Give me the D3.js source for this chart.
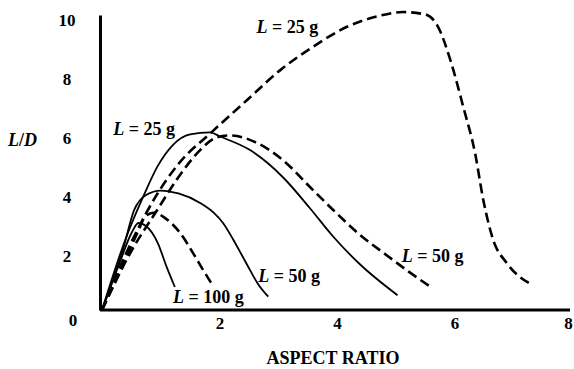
<!DOCTYPE html>
<html>
<head>
<meta charset="utf-8">
<script src="https://cdn.jsdelivr.net/npm/d3@7"></script>
<style>
  body { margin: 0; background: #fff; }
  svg { display: block; font-family: "Liberation Serif", "Times New Roman", serif; font-weight: bold; }
</style>
</head>
<body>
<div id="chart"></div>
<script>
// x = aspect ratio, y = L/D
const solid25 = [[0,0],[0.4,2.4],[0.73,3.97],[0.94,4.85],[1.21,5.6],[1.5,5.95],[1.84,6.02],[2.01,5.88],[2.52,5.42],[3.08,4.5],[3.54,3.45],[3.93,2.5],[4.39,1.55],[5.03,0.5]];
const solid50 = [[0,0],[0.35,2.0],[0.55,3.4],[0.75,3.9],[1.0,4.05],[1.3,3.95],[1.67,3.63],[1.9,3.3],[2.06,2.95],[2.23,2.4],[2.37,1.9],[2.52,1.35],[2.65,0.9],[2.83,0.45]];
const solid100 = [[0,0],[0.3,1.6],[0.5,2.6],[0.62,2.95],[0.75,2.85],[0.95,2.27],[1.1,1.46],[1.24,0.78]];
const dashed25 = [[0,0],[0.5,2.3],[0.9,3.8],[1.33,5.02],[1.84,5.98],[2.47,7.12],[3.04,8.14],[3.59,8.92],[4.17,9.6],[4.68,9.95],[5.12,10.1],[5.5,10.02],[5.72,9.6],[5.93,8.47],[6.15,6.88],[6.35,5.32],[6.49,3.73],[6.66,2.37],[6.89,1.59],[7.32,0.85]];
const dashed50 = [[0,0],[0.5,2.0],[0.94,3.39],[1.3,4.5],[1.67,5.42],[1.95,5.85],[2.18,5.92],[2.64,5.66],[3.08,5.08],[3.54,4.17],[3.93,3.4],[4.39,2.55],[4.85,1.85],[5.22,1.3],[5.58,0.8]];
const dashed100 = [[0,0],[0.35,1.5],[0.6,2.6],[0.75,3.2],[0.9,3.3],[1.05,3.15],[1.33,2.61],[1.55,1.93],[1.72,1.36],[1.88,0.85]];

const xTicks = [2, 4, 6, 8];
const yTicks = [0, 2, 4, 6, 8, 10];

// curve labels: load, left x and baseline y in data units
const curveLabels = [
  { load: '25', x: 2.63, y: 9.4 },
  { load: '25', x: 0.19, y: 5.93 },
  { load: '50', x: 5.1, y: 1.63 },
  { load: '50', x: 2.66, y: 0.95 },
  { load: '100', x: 1.21, y: 0.25 }
];

const width = 574, height = 369;
const x = d3.scaleLinear().domain([0, 8]).range([102, 572]);
const y = d3.scaleLinear().domain([0, 10]).range([310, 15]);

const svg = d3.select('#chart').append('svg')
  .attr('width', width)
  .attr('height', height);

const line = d3.line()
  .x(d => x(d[0]))
  .y(d => y(d[1]))
  .curve(d3.curveMonotoneX);

const series = [
  { data: solid25, dash: null },
  { data: solid50, dash: null },
  { data: solid100, dash: null },
  { data: dashed25, dash: '10,5' },
  { data: dashed50, dash: '10,5' },
  { data: dashed100, dash: '10,5' }
];

series.forEach(s => {
  svg.append('path')
    .datum(s.data)
    .attr('fill', 'none')
    .attr('stroke', '#000')
    .attr('stroke-width', s.dash ? 2.6 : 1.8)
    .attr('stroke-dasharray', s.dash)
    .attr('d', line);
});

// axes
svg.append('g')
  .attr('transform', `translate(0,${y(0)})`)
  .call(d3.axisBottom(x).tickValues(xTicks).tickSize(0).tickPadding(7).tickSizeOuter(0))
  .attr('font-family', null)
  .attr('font-size', 17)
  .call(g => g.select('.domain').attr('stroke-width', 3).attr('d', `M${x(0) - 2},0H${x(8) - 2}`))
  .call(g => g.selectAll('.tick text').attr('fill', '#000'))
  .call(g => g.selectAll('.tick').filter(d => d === 8).select('text').attr('x', -4));

svg.append('g')
  .attr('transform', `translate(${x(0) - 2},0)`)
  .call(d3.axisLeft(y).tickValues(yTicks).tickSize(0).tickPadding(26).tickSizeOuter(0))
  .attr('font-family', null)
  .attr('font-size', 17)
  .call(g => g.select('.domain').attr('stroke-width', 3))
  .call(g => g.selectAll('.tick text')
    .attr('fill', '#000')
    .attr('text-anchor', 'middle')
    .attr('dy', '0.62em')
    .attr('x', -33))
  .call(g => g.selectAll('.tick').filter(d => d === 0).select('text')
    .attr('x', -27).attr('dy', '0.9em'));

// axis titles
svg.append('text')
  .attr('x', 333).attr('y', 364)
  .attr('text-anchor', 'middle')
  .attr('font-size', 18)
  .text('ASPECT RATIO');

const ld = svg.append('text')
  .attr('x', 8).attr('y', 146)
  .attr('font-size', 18)
  .attr('font-style', 'italic');
ld.append('tspan').text('L');
ld.append('tspan').attr('font-style', 'normal').text('/');
ld.append('tspan').text('D');

// curve labels
curveLabels.forEach(l => {
  const t = svg.append('text')
    .attr('x', x(l.x)).attr('y', y(l.y))
    .attr('font-size', 18);
  t.append('tspan').attr('font-style', 'italic').text('L');
  t.append('tspan').text(` = ${l.load} g`);
});
</script>
</body>
</html>
